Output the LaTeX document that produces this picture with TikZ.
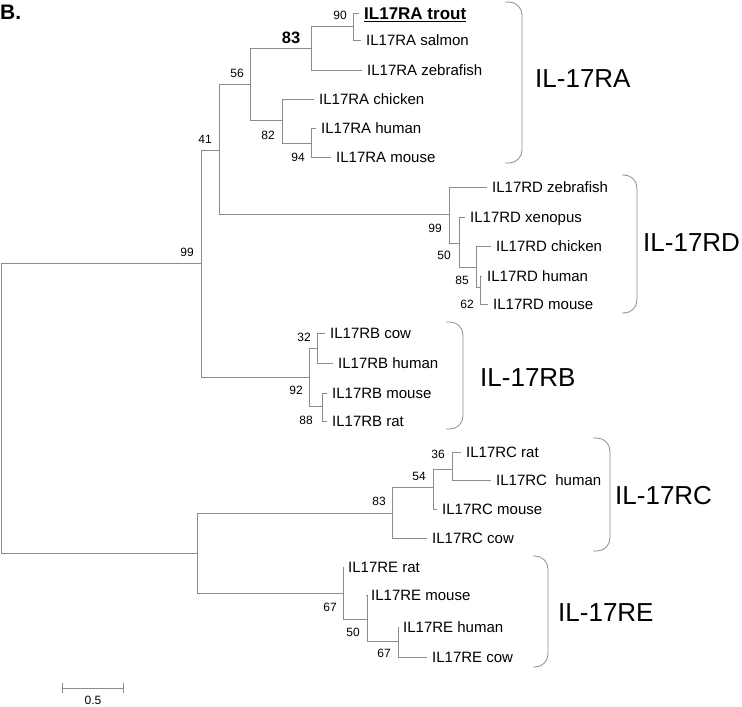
\documentclass[tikz,border=0pt]{standalone}
\usepackage{fontspec}
\setmainfont{Liberation Sans}
\usepackage{tikz}
\usetikzlibrary{arrows.meta,positioning}
\definecolor{treegray}{RGB}{140,140,140}

\begin{document}
\begin{tikzpicture}[
    x=1pt, y=-1pt,
    branch/.style={draw=treegray, line width=0.8pt},
    bracket/.style={draw=treegray, line width=0.8pt, rounded corners=13pt},
    leaf/.style={anchor=west, inner xsep=5pt, inner ysep=0pt, text height=10.7pt, text depth=0pt, font=\fontsize{15}{18}\selectfont},
    boot/.style={inner sep=0pt, font=\fontsize{12}{14}\selectfont},
    clade/.style={anchor=west, inner sep=0pt, text height=18.6pt, text depth=0pt, font=\fontsize{26}{31}\selectfont}
]
\useasboundingbox (0,0) rectangle (742,707);

% Panel letter
\node[anchor=west, inner sep=0pt, font=\fontsize{21}{25}\selectfont\bfseries] (panel) at (0,12) {B.};

% Internal nodes
\coordinate (root) at (1,408);
\coordinate (n-99) at (201,263);
\coordinate (n-41) at (219,150);
\coordinate (ra-56) at (250,84);
\coordinate (ra-83) at (311,48);
\coordinate (ra-90) at (353,26);
\coordinate (ra-82) at (282,120);
\coordinate (ra-94) at (311,143);
\coordinate (rd-99) at (449,214);
\coordinate (rd-50) at (459,243);
\coordinate (rd-85) at (476,267);
\coordinate (rd-62) at (480,287);
\coordinate (rb-92) at (309,377);
\coordinate (rb-32) at (317,348);
\coordinate (rb-88) at (322,406);
\coordinate (n-low) at (197,553);
\coordinate (rc-83) at (392,513);
\coordinate (rc-54) at (433,487);
\coordinate (rc-36) at (452,469);
\coordinate (re-67) at (343,593);
\coordinate (re-50) at (367,619);
\coordinate (re-67b) at (398,641);

% IL-17RA taxa
\node[leaf, text height=12.2pt, font=\fontsize{17}{20}\selectfont\bfseries] (ra-trout) at (359,13) {IL17RA trout};
\node[leaf] (ra-salmon) at (361,40) {IL17RA salmon};
\node[leaf] (ra-zebrafish) at (362,70) {IL17RA zebrafish};
\node[leaf] (ra-chicken) at (314,99) {IL17RA chicken};
\node[leaf] (ra-human) at (316,128) {IL17RA human};
\node[leaf] (ra-mouse) at (331,157) {IL17RA mouse};

% IL-17RD taxa
\node[leaf] (rd-zebrafish) at (487,187) {IL17RD zebrafish};
\node[leaf] (rd-xenopus) at (465,217) {IL17RD xenopus};
\node[leaf] (rd-chicken) at (491,246) {IL17RD chicken};
\node[leaf] (rd-human) at (482,276) {IL17RD human};
\node[leaf] (rd-mouse) at (488,304) {IL17RD mouse};

% IL-17RB taxa
\node[leaf] (rb-cow) at (325,333) {IL17RB cow};
\node[leaf] (rb-human) at (333,363) {IL17RB human};
\node[leaf] (rb-mouse) at (327,393) {IL17RB mouse};
\node[leaf] (rb-rat) at (327,421) {IL17RB rat};

% IL-17RC taxa
\node[leaf] (rc-rat) at (461,452) {IL17RC rat};
\node[leaf] (rc-human) at (491,480) {IL17RC\ \ human};
\node[leaf] (rc-mouse) at (437,509) {IL17RC mouse};
\node[leaf] (rc-cow) at (427,538) {IL17RC cow};

% IL-17RE taxa
\node[leaf] (re-rat) at (343,567) {IL17RE rat};
\node[leaf] (re-mouse) at (366,595) {IL17RE mouse};
\node[leaf] (re-human) at (398,627) {IL17RE human};
\node[leaf] (re-cow) at (427,657) {IL17RE cow};

% Underline of the trout sequence
\draw[line width=1.2pt] ([xshift=5pt,yshift=-2pt]ra-trout.south west) -- ([xshift=-5pt,yshift=-2pt]ra-trout.south east);

% Branches
\draw[branch] (root) |- (n-99);
\draw[branch] (root) |- (n-low);
\draw[branch] (n-99) |- (n-41);
\draw[branch] (n-99) |- (rb-92);
\draw[branch] (n-41) |- (ra-56);
\draw[branch] (n-41) |- (rd-99);
\draw[branch] (ra-56) |- (ra-83);
\draw[branch] (ra-56) |- (ra-82);
\draw[branch] (ra-83) |- (ra-90);
\draw[branch] (ra-83) |- (ra-zebrafish);
\draw[branch] (ra-90) |- (ra-trout);
\draw[branch] (ra-90) |- (ra-salmon);
\draw[branch] (ra-82) |- (ra-chicken);
\draw[branch] (ra-82) |- (ra-94);
\draw[branch] (ra-94) |- (ra-human);
\draw[branch] (ra-94) |- (ra-mouse);
\draw[branch] (rd-99) |- (rd-zebrafish);
\draw[branch] (rd-99) |- (rd-50);
\draw[branch] (rd-50) |- (rd-xenopus);
\draw[branch] (rd-50) |- (rd-85);
\draw[branch] (rd-85) |- (rd-chicken);
\draw[branch] (rd-85) |- (rd-62);
\draw[branch] (rd-62) |- (rd-human);
\draw[branch] (rd-62) |- (rd-mouse);
\draw[branch] (rb-92) |- (rb-32);
\draw[branch] (rb-92) |- (rb-88);
\draw[branch] (rb-32) |- (rb-cow);
\draw[branch] (rb-32) |- (rb-human);
\draw[branch] (rb-88) |- (rb-mouse);
\draw[branch] (rb-88) |- (rb-rat);
\draw[branch] (n-low) |- (rc-83);
\draw[branch] (n-low) |- (re-67);
\draw[branch] (rc-83) |- (rc-54);
\draw[branch] (rc-83) |- (rc-cow);
\draw[branch] (rc-54) |- (rc-36);
\draw[branch] (rc-54) |- (rc-mouse);
\draw[branch] (rc-36) |- (rc-rat);
\draw[branch] (rc-36) |- (rc-human);
\draw[branch] (re-67) |- (re-rat);
\draw[branch] (re-67) |- (re-50);
\draw[branch] (re-50) |- (re-mouse);
\draw[branch] (re-50) |- (re-67b);
\draw[branch] (re-67b) |- (re-human);
\draw[branch] (re-67b) |- (re-cow);

% Bootstrap values
\node[boot] (b-ra-90) at (340,15) {90};
\node[boot, font=\fontsize{16.5}{19}\selectfont\bfseries] (b-ra-83) at (291,38) {83};
\node[boot] (b-ra-56) at (237,73) {56};
\node[boot] (b-ra-82) at (268,135) {82};
\node[boot] (b-ra-94) at (298,157) {94};
\node[boot] (b-41) at (205,139) {41};
\node[boot] (b-99) at (187,252) {99};
\node[boot] (b-rd-99) at (435,228) {99};
\node[boot] (b-rd-50) at (444,255) {50};
\node[boot] (b-rd-85) at (462,280) {85};
\node[boot] (b-rd-62) at (467,304) {62};
\node[boot] (b-rb-32) at (304,337) {32};
\node[boot] (b-rb-92) at (296,390) {92};
\node[boot] (b-rb-88) at (306,420) {88};
\node[boot] (b-rc-36) at (438,454) {36};
\node[boot] (b-rc-54) at (419,476) {54};
\node[boot] (b-rc-83) at (379,501) {83};
\node[boot] (b-re-67) at (330,607) {67};
\node[boot] (b-re-50) at (353,632) {50};
\node[boot] (b-re-67b) at (384,653) {67};

% Clade brackets and names
\draw[bracket] (505,2) -- (522,2) -- (522,163) -- (505,163);
\node[clade] (clade-ra) at (535,78) {IL-17RA};
\draw[bracket] (622,175) -- (637,175) -- (637,313) -- (622,313);
\node[clade] (clade-rd) at (643,242) {IL-17RD};
\draw[bracket] (446,322) -- (463,322) -- (463,429) -- (446,429);
\node[clade] (clade-rb) at (480,377) {IL-17RB};
\draw[bracket] (593,438) -- (610,438) -- (610,551) -- (593,551);
\node[clade] (clade-rc) at (615,495) {IL-17RC};
\draw[bracket] (533,556) -- (548,556) -- (548,667) -- (533,667);
\node[clade] (clade-re) at (558,612) {IL-17RE};

% Scale bar
\coordinate (scale-left) at (62,688);
\coordinate (scale-right) at (124,688);
\draw[branch, {Bar[width=10pt]}-{Bar[width=10pt]}] (scale-left) -- (scale-right);
\node[boot] (scale-label) at (93,700) {0.5};

\end{tikzpicture}
\end{document}
